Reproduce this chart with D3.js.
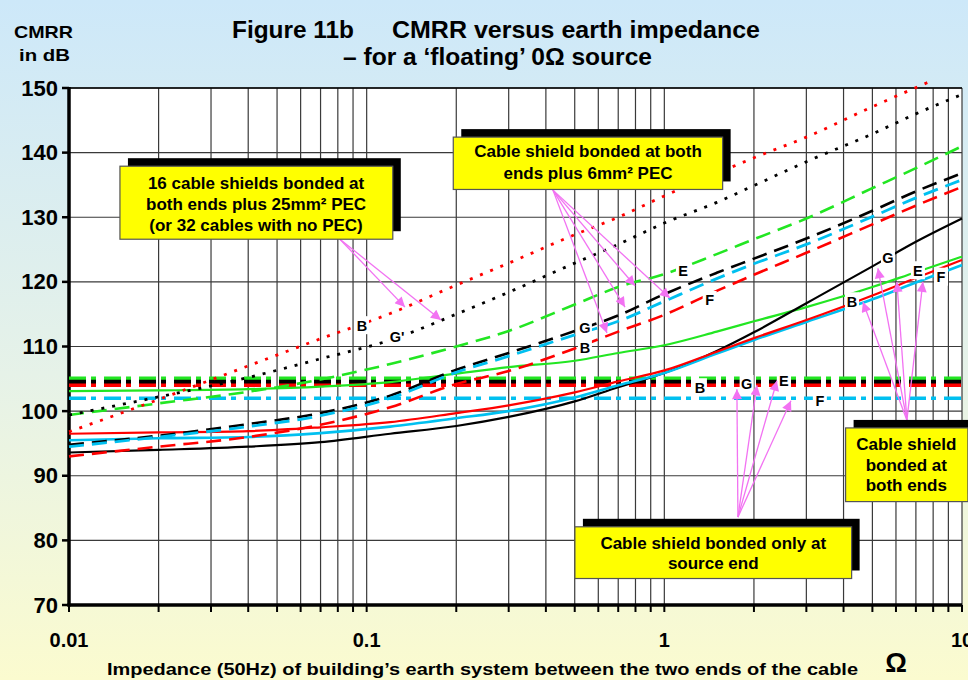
<!DOCTYPE html>
<html>
<head>
<meta charset="utf-8">
<script src="https://cdn.jsdelivr.net/npm/d3@7"></script>
<style>
  html, body { margin: 0; padding: 0; }
  svg { display: block; font-family: "Liberation Sans", Arial, sans-serif; font-weight: bold; }
</style>
</head>
<body>
<svg id="chart" width="968" height="680"></svg>
<script>
// ---------------- DATA ----------------
const impedance = [0.01, 0.02, 0.04, 0.07, 0.12, 0.2, 0.3, 0.5, 0.7, 1, 1.5, 2, 3, 5, 7, 10];

// Cable shield bonded at both ends (solid)
const bothBlack = [93.6, 94.0, 94.5, 95.2, 96.5, 97.7, 99.1, 101.5, 103.7, 105.9, 109.3, 112.2, 116.7, 122.4, 126.2, 129.8];
const bothRed   = [96.5, 96.7, 96.9, 97.5, 98.3, 99.7, 100.9, 102.9, 104.6, 106.3, 109.2, 111.3, 114.1, 117.9, 120.6, 123.4];
const bothCyan  = [95.5, 95.8, 96.0, 96.6, 97.6, 98.9, 100.0, 102.1, 104.0, 105.9, 108.9, 111.0, 113.8, 117.3, 119.9, 122.6];
const bothGreen = [103.1, 103.2, 103.4, 103.8, 104.5, 105.8, 106.8, 107.8, 109.0, 110.2, 112.3, 113.9, 116.1, 119.2, 121.5, 123.9];

// Cable shield bonded at both ends plus 6mm² PEC (dashed)
const pecGreen = [99.4, 101.2, 103.0, 104.9, 107.3, 110.0, 112.4, 116.5, 119.2, 121.2, 124.3, 126.6, 129.8, 134.5, 137.6, 141.0];
const pecBlack = [94.8, 96.2, 98.0, 99.7, 102.4, 106.4, 109.0, 112.4, 114.8, 118.1, 121.4, 123.6, 126.7, 131.0, 134.0, 136.8];
const pecCyan  = [94.5, 96.0, 97.6, 99.3, 102.0, 106.0, 108.5, 111.8, 113.9, 117.0, 120.5, 122.8, 125.8, 130.1, 133.0, 135.8];
const pecRed   = [93.0, 94.5, 96.0, 97.9, 100.6, 104.2, 106.2, 109.7, 112.3, 114.9, 118.6, 121.1, 124.5, 128.9, 131.8, 134.7];

// 16 cable shields bonded at both ends plus 25mm² PEC (dotted)
const impedanceDotRed = [0.01, 0.02, 0.04, 0.07, 0.12, 0.2, 0.3, 0.5, 0.7, 1, 1.5, 2, 3, 5, 7.8];
const pec25Red   = [96.8, 101.8, 107.0, 111.2, 115.1, 119.5, 122.9, 127.3, 130.0, 133.3, 136.8, 139.2, 142.4, 147.1, 151.0];
const pec25Black = [99.4, 102.2, 105.2, 108.1, 111.0, 115.0, 118.4, 122.9, 125.8, 129.1, 132.3, 134.9, 138.6, 142.9, 146.0, 149.0];

// Cable shield bonded only at source end (dash-dot, flat)
const sourceNames  = ["green", "black", "red", "cyan"];
const sourceValues = [105.1, 104.5, 104.0, 102.0];

// Axis ticks
const yTicks = [70, 80, 90, 100, 110, 120, 130, 140, 150];
const xMajor = [0.01, 0.1, 1, 10];
const xMajorLabels = ["0.01", "0.1", "1", "10"];

// Curve letter labels [text, impedance, dB]
const letterLabels = [
  ["B", 0.0964, 113.3], ["G'", 0.1265, 111.5],
  ["E", 1.155, 121.8], ["G", 0.541, 113.0], ["B", 0.541, 109.9], ["F", 1.42, 117.2],
  ["G", 5.64, 123.7], ["E", 7.11, 121.8], ["F", 8.5, 120.8], ["B", 4.27, 117.0],
  ["B", 1.317, 103.7], ["G", 1.89, 104.2], ["E", 2.52, 104.8], ["F", 3.33, 101.6]
];

// Annotation boxes: [x0, x1 (ohm), yTop, yBottom (dB)], text lines
const boxes = [
  { x0: 0.01483, x1: 0.1224, yTop: 137.9, yBot: 126.6, tx: 0.0425, lines: ["16 cable shields bonded at", "both ends plus 25mm² PEC", "(or 32 cables with no PEC)"], ty: [135.3, 132.1, 128.8] },
  { x0: 0.1954, x1: 1.570, yTop: 142.4, yBot: 134.3, tx: 0.554, lines: ["Cable shield bonded at both", "ends plus 6mm² PEC"], ty: [140.2, 136.9] },
  { x0: 0.5007, x1: 4.258, yTop: 82.1, yBot: 74.1, tx: 1.46, lines: ["Cable shield bonded only at", "source end"], ty: [79.6, 76.5] },
  { x0: 4.064, x1: 10.47, yTop: 97.4, yBot: 86.0, tx: 6.5, lines: ["Cable shield", "bonded at", "both ends"], ty: [94.9, 91.7, 88.5] }
];

// Arrows: source [ohm, dB] -> list of tips
const arrows = [
  { from: [0.0813, 126.6], to: [[0.1345, 116.1], [0.1777, 114.1]] },
  { from: [0.4224, 134.2], to: [[0.797, 119.4], [0.7376, 116.1], [0.6416, 112.1], [1.044, 117.5]] },
  { from: [1.767, 83.6], to: [[1.753, 103.4], [2.047, 104.0], [2.389, 104.7], [2.663, 101.6]] },
  { from: [6.53, 98.6], to: [[4.647, 116.9], [5.218, 122.1], [6.043, 120.0], [7.389, 120.0]] }
];

// ---------------- DRAW ----------------
const W = 968, H = 680;
const svg = d3.select("#chart");
const x = d3.scaleLog().domain([0.01, 10]).range([69, 962]);
const y = d3.scaleLinear().domain([70, 150]).range([605, 88]);

const defs = svg.append("defs");
const grad = defs.append("linearGradient").attr("id", "bg").attr("x1", 0).attr("y1", 0).attr("x2", 0).attr("y2", 1);
grad.append("stop").attr("offset", "0%").attr("stop-color", "#cde8f9");
grad.append("stop").attr("offset", "55%").attr("stop-color", "#e6f2e8");
grad.append("stop").attr("offset", "100%").attr("stop-color", "#fbfbcf");
defs.append("marker").attr("id", "arrowhead").attr("viewBox", "0 0 10 10")
  .attr("refX", 10).attr("refY", 5).attr("markerWidth", 12).attr("markerHeight", 10)
  .attr("markerUnits", "userSpaceOnUse").attr("orient", "auto")
  .append("path").attr("d", "M0,0 L10,5 L0,10 Z").attr("fill", "#f272f2");

svg.append("rect").attr("width", W).attr("height", H).attr("fill", "url(#bg)");
svg.append("rect").attr("x", x(0.01)).attr("y", y(150)).attr("width", x(10) - x(0.01)).attr("height", y(70) - y(150)).attr("fill", "#ffffff");

// grid
const minor = [];
for (let e = -2; e < 1; e++) for (let k = 1; k <= 9; k++) minor.push(k * Math.pow(10, e));
minor.push(10);
svg.append("g").selectAll("line").data(minor).join("line")
  .attr("x1", d => x(d)).attr("x2", d => x(d)).attr("y1", y(150)).attr("y2", y(70))
  .attr("stroke", "#3a3a3a").attr("stroke-width", 1.2);
svg.append("g").selectAll("line").data(yTicks).join("line")
  .attr("x1", x(0.01)).attr("x2", x(10)).attr("y1", d => y(d)).attr("y2", d => y(d))
  .attr("stroke", "#3a3a3a").attr("stroke-width", 1.2);

// axes ticks
svg.append("g").selectAll("line").data(yTicks).join("line")
  .attr("x1", x(0.01) - 7).attr("x2", x(0.01)).attr("y1", d => y(d)).attr("y2", d => y(d))
  .attr("stroke", "#000").attr("stroke-width", 2.5);
svg.append("g").selectAll("line").data(minor).join("line")
  .attr("x1", d => x(d)).attr("x2", d => x(d)).attr("y1", y(70)).attr("y2", y(70) + 7)
  .attr("stroke", "#000").attr("stroke-width", 2);
svg.append("line").attr("x1", x(0.01)).attr("x2", x(0.01)).attr("y1", y(150) - 1).attr("y2", y(70) + 1.5)
  .attr("stroke", "#000").attr("stroke-width", 3.5);
svg.append("line").attr("x1", x(0.01) - 1.5).attr("x2", x(10)).attr("y1", y(70)).attr("y2", y(70))
  .attr("stroke", "#000").attr("stroke-width", 3.5);
svg.append("line").attr("x1", x(0.01)).attr("x2", x(10)).attr("y1", y(150)).attr("y2", y(150))
  .attr("stroke", "#000").attr("stroke-width", 1.5);

// tick labels
svg.append("g").selectAll("text").data(yTicks).join("text")
  .attr("x", 58).attr("y", d => y(d) + 7.5).attr("text-anchor", "end")
  .attr("font-size", 22).attr("fill", "#000").text(d => d);
svg.append("g").selectAll("text").data(xMajor).join("text")
  .attr("x", d => x(d)).attr("y", 647).attr("text-anchor", "middle")
  .attr("font-size", 20).attr("fill", "#000").text((d, i) => xMajorLabels[i]);

// line generator
const line = d3.line().x(d => x(d[0])).y(d => y(d[1])).curve(d3.curveMonotoneX);
const zip = (xs, ys) => ys.map((v, i) => [xs[i], v]);

// source-end horizontal dash-dot lines
const srcColors = { green: "#22e622", black: "#000000", red: "#ff0000", cyan: "#00c0f0" };
const srcWidths = { green: 3.5, black: 4.5, red: 3.5, cyan: 3.5 };
svg.append("g").selectAll("line").data(sourceNames).join("line")
  .attr("x1", x(0.01)).attr("x2", x(10))
  .attr("y1", (d, i) => y(sourceValues[i])).attr("y2", (d, i) => y(sourceValues[i]))
  .attr("stroke", d => srcColors[d]).attr("stroke-width", d => srcWidths[d])
  .attr("stroke-dasharray", "17,5,5,8");

// solid, dashed, dotted curves
const series = [
  { xs: impedance, ys: bothGreen, c: "#22e622", w: 2.2, dash: null },
  { xs: impedance, ys: bothBlack, c: "#000000", w: 2.2, dash: null },
  { xs: impedance, ys: bothCyan, c: "#00c0f0", w: 2.6, dash: null },
  { xs: impedance, ys: bothRed, c: "#ff0000", w: 2.2, dash: null },
  { xs: impedance, ys: pecGreen, c: "#22e622", w: 2.6, dash: "15,8" },
  { xs: impedance, ys: pecBlack, c: "#000000", w: 2.6, dash: "15,8" },
  { xs: impedance, ys: pecCyan, c: "#00c0f0", w: 2.8, dash: "15,8" },
  { xs: impedance, ys: pecRed, c: "#ff0000", w: 2.6, dash: "15,8" },
  { xs: impedanceDotRed, ys: pec25Red, c: "#ff0000", w: 2.8, dash: "3,8" },
  { xs: impedance, ys: pec25Black, c: "#000000", w: 2.8, dash: "3,8" }
];
svg.append("g").selectAll("path").data(series).join("path")
  .attr("d", s => line(zip(s.xs, s.ys)))
  .attr("fill", "none").attr("stroke", s => s.c).attr("stroke-width", s => s.w)
  .attr("stroke-dasharray", s => s.dash);

// letter labels with white background
const lg = svg.append("g").selectAll("g").data(letterLabels).join("g")
  .attr("transform", d => `translate(${x(d[1])},${y(d[2])})`);
lg.append("rect").attr("x", d => d[0].length > 1 ? -11 : -7).attr("y", -9)
  .attr("width", d => d[0].length > 1 ? 22 : 14).attr("height", 18).attr("fill", "#fff");
lg.append("text").attr("text-anchor", "middle").attr("y", 5.5)
  .attr("font-size", 14.5).attr("fill", "#000").text(d => d[0]);

// arrows
const arrowLines = [];
arrows.forEach(a => a.to.forEach(t => arrowLines.push([a.from, t])));
svg.append("g").selectAll("line").data(arrowLines).join("line")
  .attr("x1", d => x(d[0][0])).attr("y1", d => y(d[0][1]))
  .attr("x2", d => x(d[1][0])).attr("y2", d => y(d[1][1]))
  .attr("stroke", "#f272f2").attr("stroke-width", 1.3)
  .attr("marker-end", "url(#arrowhead)");

// annotation boxes
const bg = svg.append("g").selectAll("g").data(boxes).join("g");
bg.append("rect")
  .attr("x", d => x(d.x0) + 8).attr("y", d => y(d.yTop) - 8)
  .attr("width", d => x(d.x1) - x(d.x0)).attr("height", d => y(d.yBot) - y(d.yTop))
  .attr("fill", "#000");
bg.append("rect")
  .attr("x", d => x(d.x0)).attr("y", d => y(d.yTop))
  .attr("width", d => x(d.x1) - x(d.x0)).attr("height", d => y(d.yBot) - y(d.yTop))
  .attr("fill", "#ffff00").attr("stroke", "#555").attr("stroke-width", 1.2);
bg.each(function(d) {
  const g = d3.select(this);
  d.lines.forEach((t, i) => {
    g.append("text").attr("x", x(d.tx)).attr("y", y(d.ty[i]) + 6)
      .attr("text-anchor", "middle").attr("font-size", 17).attr("fill", "#000").text(t);
  });
});

// titles
svg.append("text").attr("x", 232).attr("y", 38)
  .attr("font-size", 24).attr("fill", "#000")
  .attr("textLength", 122).attr("lengthAdjust", "spacingAndGlyphs")
  .text("Figure 11b");
svg.append("text").attr("x", 392).attr("y", 38)
  .attr("font-size", 24).attr("fill", "#000")
  .attr("textLength", 368).attr("lengthAdjust", "spacingAndGlyphs")
  .text("CMRR versus earth impedance");
svg.append("text").attr("x", 343).attr("y", 65)
  .attr("font-size", 24).attr("fill", "#000")
  .attr("textLength", 309).attr("lengthAdjust", "spacingAndGlyphs")
  .text("– for a ‘floating’ 0Ω source");
svg.append("text").attr("x", 14).attr("y", 38)
  .attr("font-size", 17).attr("fill", "#000")
  .attr("textLength", 59).attr("lengthAdjust", "spacingAndGlyphs").text("CMRR");
svg.append("text").attr("x", 19).attr("y", 61)
  .attr("font-size", 17).attr("fill", "#000")
  .attr("textLength", 51).attr("lengthAdjust", "spacingAndGlyphs").text("in dB");
svg.append("text").attr("x", 107).attr("y", 675)
  .attr("font-size", 17).attr("fill", "#000")
  .attr("textLength", 751).attr("lengthAdjust", "spacingAndGlyphs")
  .text("Impedance (50Hz) of building’s earth system between the two ends of the cable");
svg.append("text").attr("x", 896).attr("y", 672).attr("text-anchor", "middle")
  .attr("font-size", 27).attr("fill", "#000").text("Ω");
</script>
</body>
</html>
